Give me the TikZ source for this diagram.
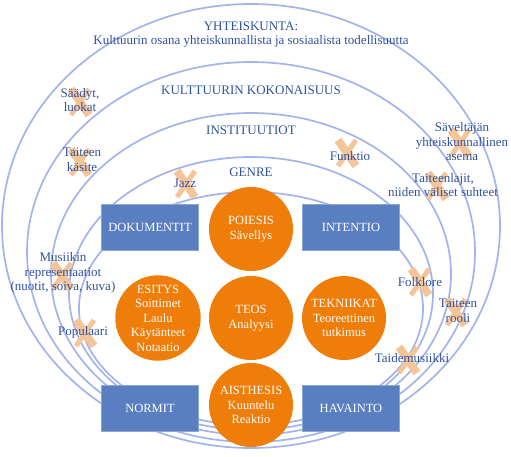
\documentclass[tikz,border=0pt]{standalone}
\usepackage{fontspec}
\setmainfont{Liberation Serif}
\usepackage{tikz}
\usetikzlibrary{positioning}
\definecolor{ringblue}{HTML}{A3B3EE}
\definecolor{boxblue}{HTML}{5A7FC1}
\definecolor{orng}{HTML}{EF7D0A}
\definecolor{txtblue}{HTML}{2E52A0}
\definecolor{peach}{HTML}{F4C599}
\newcommand{\lbl}{\fontsize{12.5}{14.5}\selectfont}
\newcommand{\lvlfont}{\fontsize{13}{14.5}\selectfont}
\tikzset{
  ring/.style   ={draw=ringblue, line width=1.7pt},
  core/.style   ={circle, fill=orng, minimum size=84pt, inner sep=0pt, text=white, align=center, font=\lbl},
  tagbox/.style ={rectangle, fill=boxblue, draw=boxblue!70!white, line width=0.8pt, minimum width=97pt, minimum height=46pt, text=white, font=\lbl},
  lvl/.style    ={text=txtblue, align=center, font=\lvlfont},            % level / example labels
  xstroke/.style={draw=peach, line cap=butt},
  xmark/.pic    ={\draw[xstroke, line width=8pt] (-9,-13) -- (9,13);
                  \draw[xstroke, line width=5pt] (-9,13) -- (9,-13);},
}

\begin{document}
\begin{tikzpicture}[x=1pt, y=-1pt]
  \useasboundingbox (0,0) rectangle (511,456);
  % rings
  \draw[ring] (251,226)   ellipse [x radius=249, y radius=222];
  \draw[ring] (251,252)   ellipse [x radius=224, y radius=190];
  \draw[ring] (251,274)   ellipse [x radius=200, y radius=161];
  \draw[ring] (251,293.5) ellipse [x radius=182, y radius=136.5];
  \draw[ring] (251,308.5) ellipse [x radius=172, y radius=116.5];

  % crosses behind the examples
  \foreach \p in {(80,102),(80,162),(186,184),(347,153),(460,143),(437,186),
                  (62,276),(85,333),(420,282),(456,312),(408,360)}
    \pic at \p {xmark};

  % boxes
  \node[tagbox] (dok) at (150,227) {DOKUMENTIT};
  \node[tagbox] (int) at (351,227) {INTENTIO};
  \node[tagbox] (nor) at (150,408) {NORMIT};
  \node[tagbox] (hav) at (351,408) {HAVAINTO};

  % circles
  \node[core] (poi)  at (251,229) {POIESIS\\Sävellys};
  \node[core] (esi)  at (158,318) {ESITYS\\Soittimet\\Laulu\\Käytänteet\\Notaatio};
  \node[core] (teos) at (251,318) {TEOS\\Analyysi};
  \node[core] (tek)  at (344,318) {TEKNIIKAT\\Teoreettinen\\tutkimus};
  \node[core] (ais)  at (251,405) {AISTHESIS\\Kuuntelu\\Reaktio};

  % level names
  \node[lvl] (lyht)  at (251,34.5) {YHTEISKUNTA:\\Kulttuurin osana yhteiskunnallista ja sosiaalista todellisuutta};
  \node[lvl] (lkult) at (251,90)   {KULTTUURIN KOKONAISUUS};
  \node[lvl] (linst) at (251,130)  {INSTITUUTIOT};
  \node[lvl] (lgen)  at (251,172)  {GENRE};

  % examples
  \node[lvl] (esaad) at (80,100)  {Säädyt,\\luokat};
  \node[lvl] (ekas)  at (82,160)  {Taiteen\\käsite};
  \node[lvl] (ejazz) at (185,183) {Jazz};
  \node[lvl] (efunk) at (350,156) {Funktio};
  \node[lvl] (esav)  at (462,142) {Säveltäjän\\yhteiskunnallinen\\asema};
  \node[lvl] (elaj)  at (443,185) {Taiteenlajit,\\niiden väliset suhteet};
  \node[lvl] (emus)  at (63,273)  {Musiikin\\representaatiot\\(nuotit, soiva, kuva)};
  \node[lvl] (epop)  at (83,332)  {Populaari};
  \node[lvl] (efolk) at (420,282) {Folklore};
  \node[lvl] (erool) at (458,311) {Taiteen\\rooli};
  \node[lvl] (etaid) at (412,358) {Taidemusiikki};
\end{tikzpicture}
\end{document}
